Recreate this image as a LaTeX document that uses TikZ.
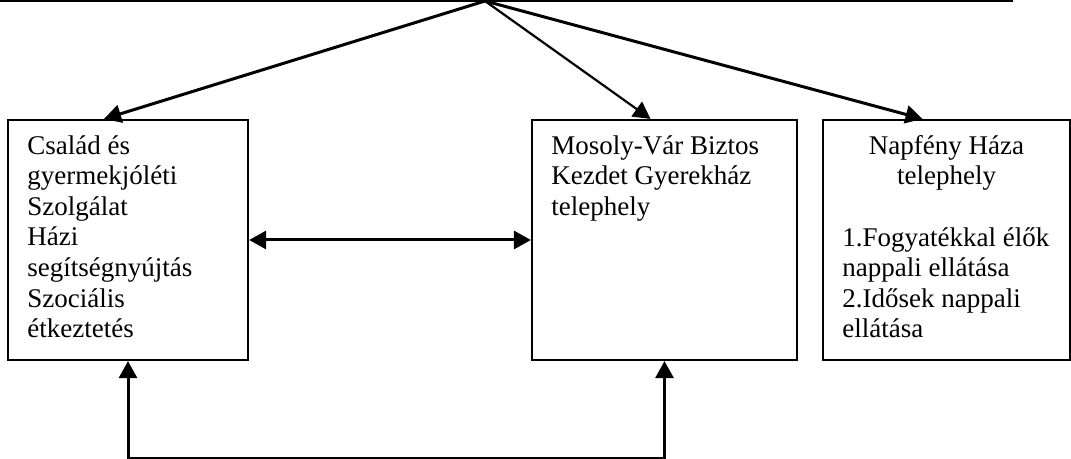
\documentclass[tikz,border=0pt]{standalone}
\usepackage{fontspec}
\setmainfont{Liberation Serif}
\usetikzlibrary{arrows.meta,positioning}

\begin{document}
\begin{tikzpicture}[
    x=0.5pt, y=-0.5pt,
    font=\fontsize{13.5}{15.3}\selectfont,
    >={Triangle[length=8.5pt,width=9pt]},
    box/.style={draw, line width=1.1pt, minimum width=#1, minimum height=120pt, inner sep=0pt},
    txt/.style={anchor=north west, align=left, inner sep=0pt},
    arrow/.style={line width=1.5pt, line join=miter}
]
\useasboundingbox (0,0) rectangle (1071,459);

\draw[line width=0.8pt] (0,1) -- (1013,1);
\coordinate (apex) at (485,1);

\node[box=120pt] (csalad) at (128,240) {};
\node[box=132.5pt] (mosoly) at (664.5,240) {};
\node[box=123.5pt] (napfeny) at (946.5,240) {};

\node[txt] (csaladtxt) at ([shift={(20,16)}]csalad.north west) {Család és\\gyermekjóléti\\Szolgálat\\Házi\\segítségnyújtás\\Szociális\\étkeztetés};
\node[txt] (mosolytxt) at ([shift={(20,16)}]mosoly.north west) {Mosoly-Vár Biztos\\Kezdet Gyerekház\\telephely};
\node[txt, anchor=north, align=center] (napfenytitle) at ([shift={(0,16)}]napfeny.north) {Napfény Háza\\telephely};
\node[txt] (napfenylist) at ([shift={(20,108)}]napfeny.north west) {1.Fogyatékkal élők\\nappali ellátása\\2.Idősek nappali\\ellátása};

\draw[arrow, ->] (apex) -- ([xshift=-12pt]csalad.north);
\draw[arrow, ->, line width=1.1pt] (apex) -- ([xshift=-7pt]mosoly.north);
\draw[arrow, ->] (apex) -- ([xshift=-12pt]napfeny.north);

\draw[arrow, <->] (csalad) -- (mosoly);
\draw[arrow, <->] (csalad.south) -- ++(0,97) -| (mosoly.south);
\end{tikzpicture}
\end{document}
